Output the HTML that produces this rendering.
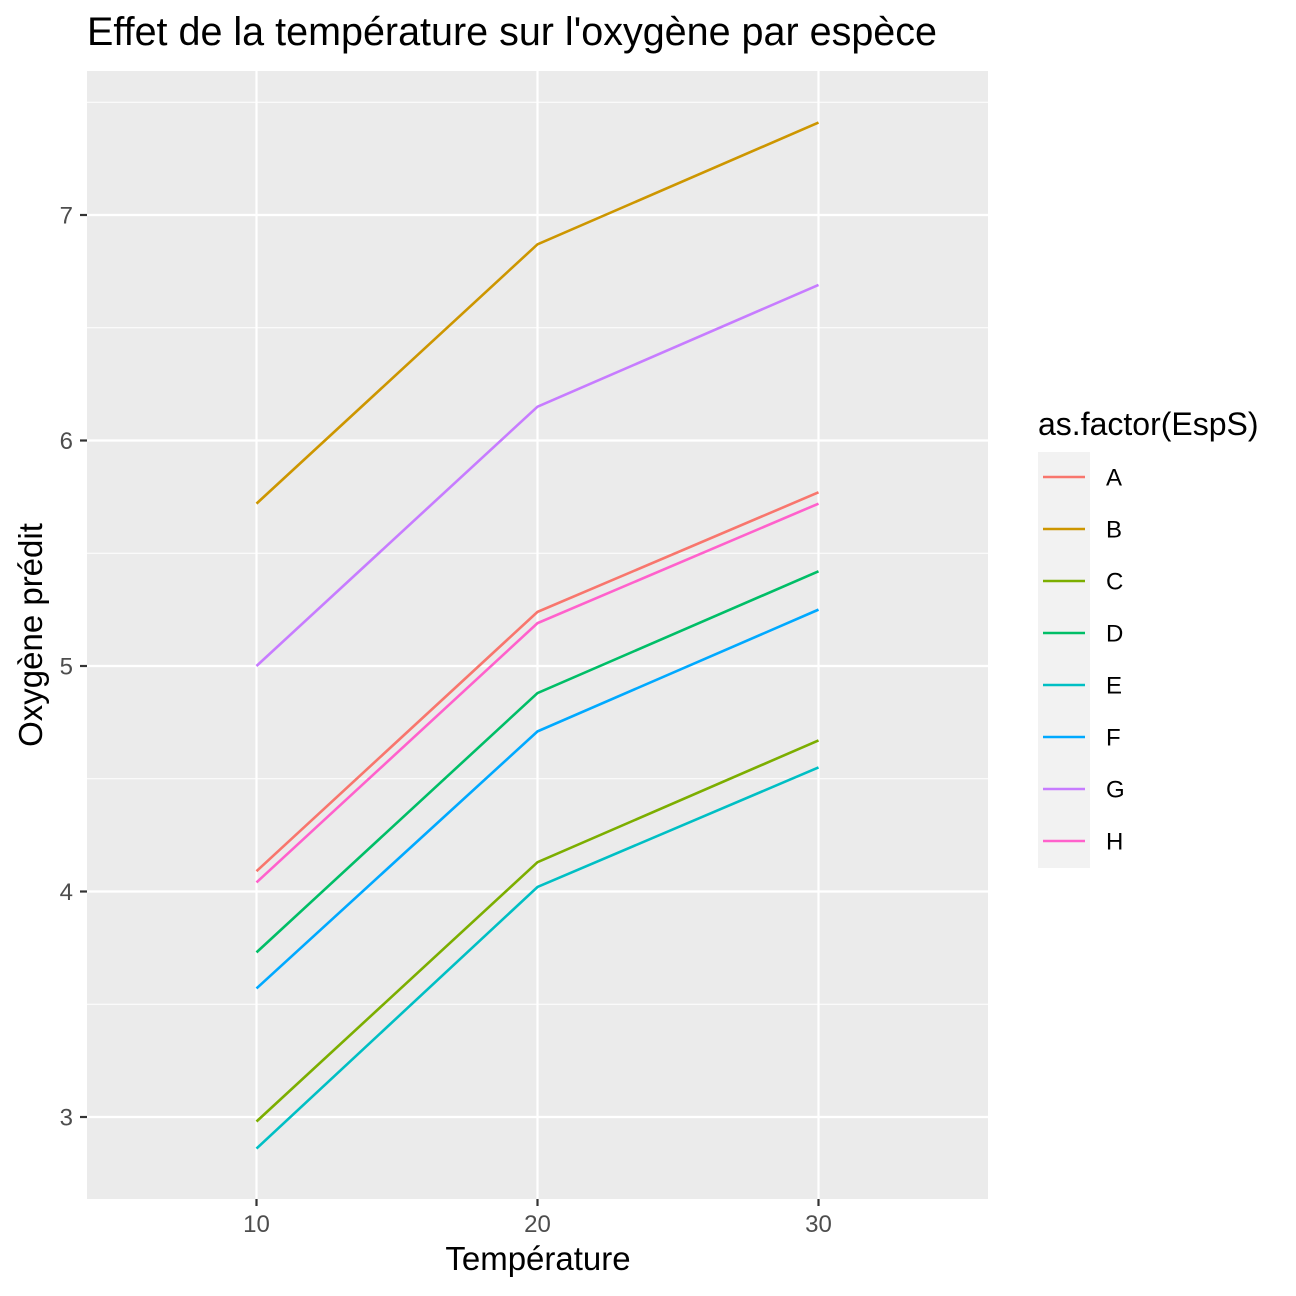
<!DOCTYPE html>
<html><head><meta charset="utf-8">
<style>
html,body{margin:0;padding:0;background:#fff;}
svg{display:block;font-family:"Liberation Sans",Arial,sans-serif;}
</style></head>
<body>
<svg id="chart" width="1296" height="1296" viewBox="0 0 1296 1296">
<text x="87" y="45" font-size="39.5" fill="#000">Effet de la température sur l'oxygène par espèce</text>
<rect x="87" y="71" width="901" height="1128" fill="#EBEBEB"/>
<g id="grid"></g>
<g id="lines"></g>
<g id="axes"></g>
<text x="538" y="1270" font-size="33" text-anchor="middle" fill="#000">Température</text>
<text transform="translate(42,635) rotate(-90)" font-size="33" text-anchor="middle" fill="#000">Oxygène prédit</text>
<text x="1038" y="435" font-size="32" fill="#000">as.factor(EspS)</text>
<g id="legend"></g>
</svg>
<script>
const temps = [10, 20, 30];
const species = ["A","B","C","D","E","F","G","H"];
const colors = ["#F8766D","#CD9600","#7CAE00","#00BE67","#00BFC4","#00A9FF","#C77CFF","#FF61CC"];
const valA = [4.09, 5.24, 5.77];
const valB = [5.72, 6.87, 7.41];
const valC = [2.98, 4.13, 4.67];
const valD = [3.73, 4.88, 5.42];
const valE = [2.86, 4.02, 4.55];
const valF = [3.57, 4.71, 5.25];
const valG = [5.00, 6.15, 6.69];
const valH = [4.04, 5.19, 5.72];
const seriesValues = [valA, valB, valC, valD, valE, valF, valG, valH];
const xTicks = [10, 20, 30];
const yTicks = [3, 4, 5, 6, 7];
const yMinor = [3.5, 4.5, 5.5, 6.5, 7.5];

const NS = "http://www.w3.org/2000/svg";
function xs(v){ return 256.5 + (v - 10) * 28.1; }
function ys(v){ return 1117 - (v - 3) * 225.5; }
function mk(tag, attrs, parent){
  const e = document.createElementNS(NS, tag);
  for (const k in attrs) e.setAttribute(k, attrs[k]);
  parent.appendChild(e);
  return e;
}
const grid = document.getElementById("grid");
const axes = document.getElementById("axes");
const lines = document.getElementById("lines");
const legend = document.getElementById("legend");

yMinor.forEach(v => {
  const l = mk("line", {x1:87, x2:988, y1:ys(v), y2:ys(v), stroke:"#fff", "stroke-width":1.1}, grid);
  
  
});
yTicks.forEach(v => {
  const l = mk("line", {x1:87, x2:988, y1:ys(v), y2:ys(v), stroke:"#fff", "stroke-width":2.2}, grid);
  
  
  const t = mk("line", {x1:80, x2:87, y1:ys(v), y2:ys(v), stroke:"#333", "stroke-width":2.2}, axes);
  
  
  const tx = mk("text", {x:73, y:ys(v)+8.5, "font-size":24, fill:"#4D4D4D", "text-anchor":"end"}, axes);
  tx.textContent = v;
  
  
});
xTicks.forEach(v => {
  const l = mk("line", {x1:xs(v), x2:xs(v), y1:71, y2:1199, stroke:"#fff", "stroke-width":2.2}, grid);
  
  
  const t = mk("line", {x1:xs(v), x2:xs(v), y1:1199, y2:1206, stroke:"#333", "stroke-width":2.2}, axes);
  
  
  const tx = mk("text", {x:xs(v), y:1232, "font-size":24, fill:"#4D4D4D", "text-anchor":"middle"}, axes);
  tx.textContent = v;
  
  
});
seriesValues.forEach((vals, i) => {
  const pts = vals.map((v, j) => xs(temps[j]) + "," + ys(v)).join(" ");
  const p = mk("polyline", {points:pts, fill:"none", stroke:colors[i], "stroke-width":2.6}, lines);
  
  
});
const bg = mk("rect", {x:1038, y:452, width:52, height:416, fill:"#F2F2F2"}, legend);


species.forEach((s, i) => {
  const y = 477 + i * 52;
  const l = mk("line", {x1:1043, x2:1085, y1:y, y2:y, stroke:colors[i], "stroke-width":2.6}, legend);
  
  
  const t = mk("text", {x:1106, y:y+8.5, "font-size":24, fill:"#000"}, legend);
  t.textContent = s;
  
  
});
</script>
</body></html>
